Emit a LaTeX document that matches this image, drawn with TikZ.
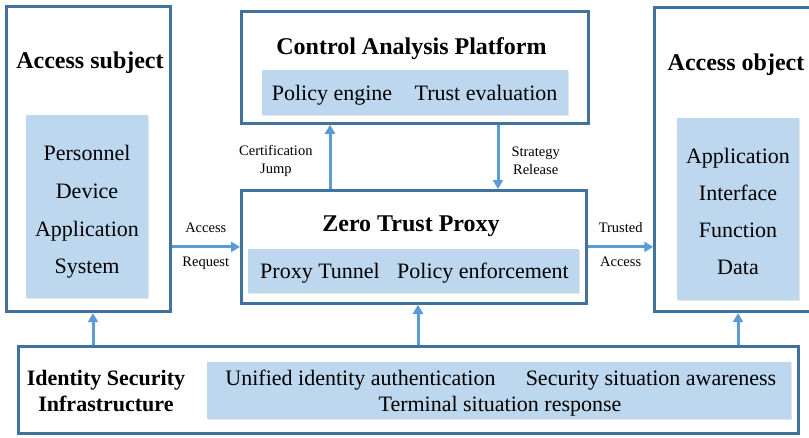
\documentclass[tikz,border=0pt]{standalone}
\usepackage{fontspec}
\setmainfont{Liberation Serif}
\usetikzlibrary{arrows.meta,shadows}
\definecolor{framec}{HTML}{41719C}
\definecolor{arrowc}{HTML}{5B9BD5}
\definecolor{fillc}{HTML}{BDD7EE}
\tikzset{
	,x = 1pt
	,y = -1pt
	,bigbox/.style   = {draw=framec, line width=3pt, inner sep=0pt}
	,lightbox/.style = {fill=fillc, inner sep=0pt, drop shadow={shadow xshift=1pt, shadow yshift=-1pt, opacity=.2}}
	,titlen/.style   = {anchor=base, font=\bfseries\fontsize{24}{28}\selectfont}
	,subtitlen/.style = {anchor=base, font=\bfseries\fontsize{22}{26}\selectfont}
	,itemn/.style    = {anchor=base, font=\fontsize{22}{26}\selectfont}
	,labeln/.style   = {align=center, inner sep=2pt, font=\fontsize{14.5}{18.4}\selectfont}
	,edgeb/.style    = {-{Triangle[width=10pt, length=9pt]}, line width=3pt, draw=arrowc}
}

\begin{document}
\begin{tikzpicture}
		\useasboundingbox (0, 0) rectangle (809, 437);
		% frames
		\node[bigbox, minimum width=163.3pt, minimum height=305pt]   at (88.35, 159.2) (subj)  {};
		\node[bigbox, minimum width=346.8pt, minimum height=111.6pt] at (415.1, 67.5)  (cap)   {};
		\node[bigbox, minimum width=345pt,   minimum height=112.8pt] at (414.1, 246.9) (proxy) {};
		\node[bigbox, minimum width=166.3pt, minimum height=304.4pt] at (737.9, 159.5) (obj)   {};
		\node[bigbox, minimum width=780pt,   minimum height=87pt]    at (408.3, 389.8) (isi)   {};
		% light blue panels
		\node[lightbox, minimum width=122pt, minimum height=183pt] at (87, 206.5)  (subjin)  {};
		\node[lightbox, minimum width=306pt, minimum height=45pt]  at (415, 92.5)  (capin)   {};
		\node[lightbox, minimum width=331pt, minimum height=44pt]  at (413.5, 271) (proxyin) {};
		\node[lightbox, minimum width=122pt, minimum height=182pt] at (738, 209)   (objin)   {};
		\node[lightbox, minimum width=584pt, minimum height=57pt]  at (499, 390.5) (isiin)   {};
		% titles
		\node[titlen] at (90, 68.3)   (subjt)  {Access subject};
		\node[titlen] at (411.5, 54)  (capt)   {Control Analysis Platform};
		\node[titlen] at (411, 231.7) (proxyt) {Zero Trust Proxy};
		\node[titlen] at (736, 70)    (objt)   {Access object};
		\node[subtitlen] at (106, 385)   (isit1) {Identity Security};
		\node[subtitlen] at (106, 411.7) (isit2) {Infrastructure};
		% panel texts
		\node[itemn] at (87, 160) (s1) {Personnel};
		\node[itemn] at (87, 198) (s2) {Device};
		\node[itemn] at (87, 236) (s3) {Application};
		\node[itemn] at (87, 273) (s4) {System};
		\node[itemn] at (738, 163) (o1) {Application};
		\node[itemn] at (738, 200) (o2) {Interface};
		\node[itemn] at (738, 237) (o3) {Function};
		\node[itemn] at (738, 274) (o4) {Data};
		\node[itemn] at (332, 100) (c1) {Policy engine};
		\node[itemn] at (486, 100) (c2) {Trust evaluation};
		\node[itemn] at (320, 278) (p1) {Proxy Tunnel};
		\node[itemn] at (483, 278) (p2) {Policy enforcement};
		\node[itemn] at (360.5, 385) (i1) {Unified identity authentication};
		\node[itemn] at (651, 385)   (i2) {Security situation awareness};
		\node[itemn] at (500, 411)   (i3) {Terminal situation response};
		% flows
		\draw[edgeb] (subj.east |- proxy.west) -- node[labeln, above=11pt] {Access} node[labeln, below=7pt] {Request} (proxy.west);
		\draw[edgeb] (proxy.east) -- node[labeln, above=11pt] {Trusted} node[labeln, below=7pt] {Access} (obj.west |- proxy.east);
		\draw[edgeb] (proxy.north -| 330,0) -- node[labeln, left=14pt, yshift=-4pt] {Certification\\Jump} (cap.south -| 330,0);
		\draw[edgeb] (cap.south -| 498,0) -- node[labeln, right=10pt, yshift=-4pt] {Strategy\\Release} (proxy.north -| 498,0);
		\draw[edgeb] (isi.north -| 93,0)  -- (subj.south -| 93,0);
		\draw[edgeb] (isi.north -| 418,0) -- (proxy.south -| 418,0);
		\draw[edgeb] (isi.north -| 738,0) -- (obj.south -| 738,0);
	\end{tikzpicture}
\end{document}
